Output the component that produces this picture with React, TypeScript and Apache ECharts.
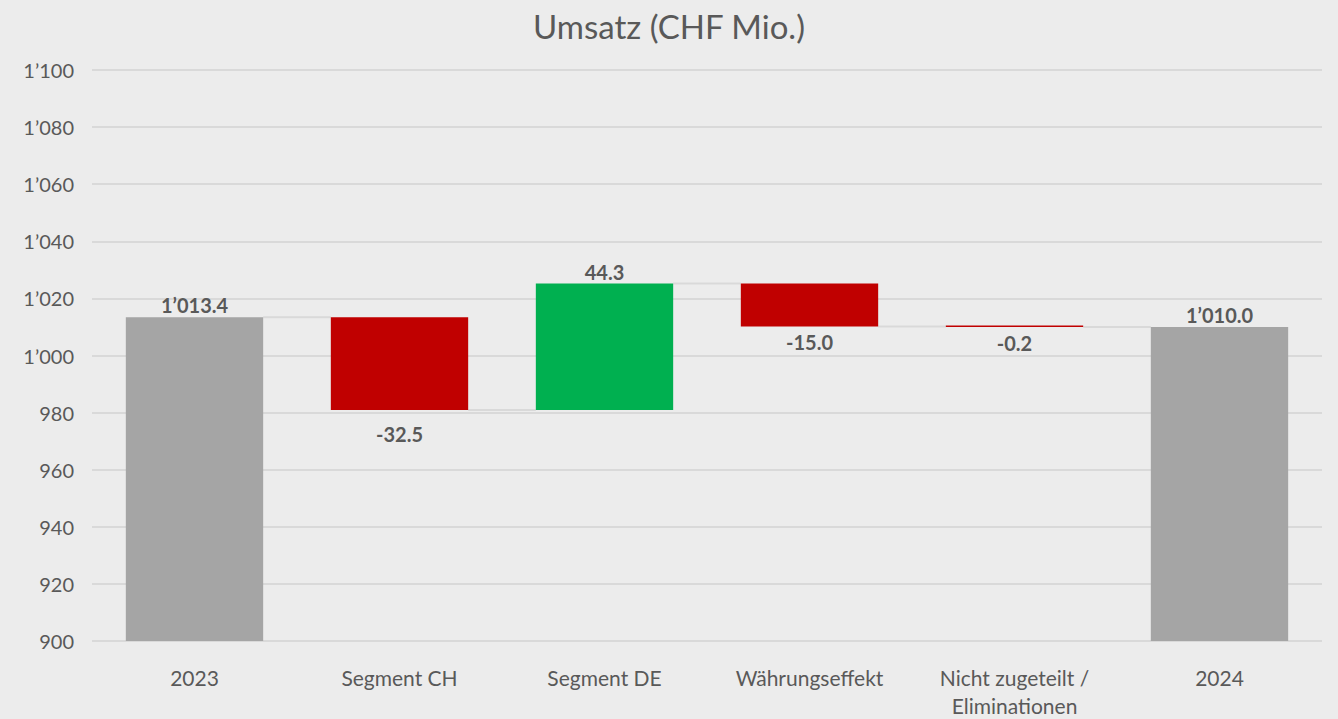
import React, { useEffect, useRef } from "react";
import * as echarts from "echarts";

const categories = ["2023", "Segment CH", "Segment DE", "Währungseffekt", "Nicht zugeteilt /\nEliminationen", "2024"];
const deltas = [1013.4, -32.5, 44.3, -15.0, -0.2, 1010.0];
const kinds = ["total", "delta", "delta", "delta", "delta", "total"];
const yMin = 900;
const yMax = 1100;
const yStep = 20;

const fmt = (v: number, dec: number) => {
  const s = Math.abs(v).toFixed(dec);
  const [i, d] = s.split(".");
  const ii = i.replace(/\B(?=(\d{3})+(?!\d))/g, "’");
  return (v < 0 ? "-" : "") + ii + (d !== undefined ? "." + d : "");
};

const BAR_RATIO = 0.67;

export default function App() {
  const ref = useRef<HTMLDivElement>(null);
  useEffect(() => {
    if (!ref.current) return;
    const chart = echarts.init(ref.current, null, { renderer: "svg" });

    const base: any[] = [];
    const vals: any[] = [];
    const levels: number[] = [];
    let running = 0;
    deltas.forEach((d, i) => {
      if (kinds[i] === "total") {
        running = d;
        base.push(0);
        vals.push({
          value: d,
          itemStyle: { color: "#a5a5a5" },
          label: { position: "top", distance: 2, formatter: fmt(d, 1) },
        });
      } else {
        const start = running;
        const end = running + d;
        running = end;
        base.push(Math.min(start, end));
        vals.push({
          value: Math.abs(d),
          itemStyle: { color: d < 0 ? "#c00000" : "#00b050" },
          label: {
            position: d < 0 ? "bottom" : "top",
            distance: d < 0 ? (Math.abs(d) > 20 ? 14 : 6) : 2,
            formatter: fmt(d, 1),
          },
        });
      }
      levels.push(running);
    });

    const connectorData = levels.slice(0, -1).map((lv, i) => [i, lv]);

    chart.setOption({
      animation: false,
      backgroundColor: "#ececec",
      title: {
        text: "Umsatz (CHF Mio.)",
        left: "center",
        top: 4,
        textStyle: { fontFamily: "Lato", fontSize: 33, fontWeight: "normal", color: "#595959" },
      },
      grid: { left: 92, right: 16, top: 70, bottom: 76 },
      xAxis: {
        type: "category",
        data: categories,
        axisLine: { show: false },
        axisTick: { show: false },
        axisLabel: { fontFamily: "Lato", fontSize: 21, color: "#595959", margin: 22, lineHeight: 28, interval: 0 },
      },
      yAxis: {
        type: "value",
        min: yMin,
        max: yMax,
        interval: yStep,
        axisLine: { show: false },
        axisTick: { show: false },
        splitLine: { lineStyle: { color: "#d9d9d9", width: 2 } },
        axisLabel: {
          fontFamily: "Lato",
          fontSize: 20,
          color: "#595959",
          margin: 18,
          formatter: (v: number) => fmt(v, 0),
        },
      },
      series: [
        {
          type: "custom",
          z: 1,
          silent: true,
          data: connectorData,
          renderItem: (params: any, api: any) => {
            const i = api.value(0);
            const lv = api.value(1);
            const p1 = api.coord([i, lv]);
            const p2 = api.coord([i + 1, lv]);
            const bw = api.size([1, 0])[0] * BAR_RATIO;
            return {
              type: "line",
              shape: { x1: p1[0] + bw / 2, y1: p1[1], x2: p2[0] - bw / 2, y2: p2[1] },
              style: { stroke: "#d9d9d9", lineWidth: 2 },
            };
          },
        },
        {
          type: "bar",
          stack: "w",
          data: base,
          itemStyle: { color: "transparent" },
          barCategoryGap: "33%",
          z: 2,
          silent: true,
        },
        {
          type: "bar",
          stack: "w",
          data: vals,
          barCategoryGap: "33%",
          barMinHeight: 1.5,
          z: 3,
          label: {
            show: true,
            fontFamily: "Lato",
            fontSize: 20,
            fontWeight: "bold",
            color: "#595959",
          },
        },
      ],
    });
    return () => chart.dispose();
  }, []);
  return <div ref={ref} style={{ width: 1338, height: 719, position: "absolute", left: 0, top: 0 }} />;
}
